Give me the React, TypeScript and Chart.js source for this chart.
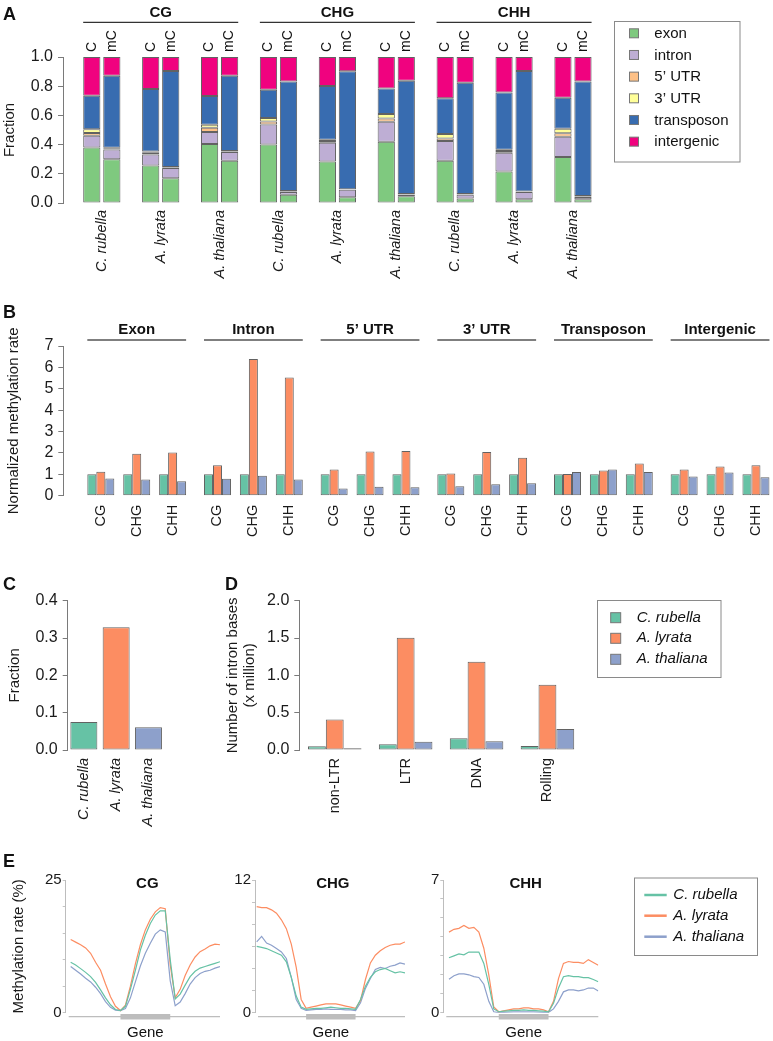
import React, { useEffect, useRef } from 'react';
import { Chart, registerables } from 'chart.js';

Chart.register(...registerables);

const FONT = "'Liberation Sans', Arial, Helvetica, sans-serif";
Chart.defaults.font.family = FONT;
Chart.defaults.color = '#1a1a1a';

// ---------------- Panel A data ----------------
const regionLabels = ['exon', 'intron', '5’ UTR', '3’ UTR', 'transposon', 'intergenic'];
const regionColors = ['#7fc97f', '#beaed4', '#fdc086', '#ffff99', '#386cb0', '#f0027f'];
const pairPositions = [1, 2, 3, 4, 5, 6, 7, 8, 9];
const pairSpecies = ['C. rubella', 'A. lyrata', 'A. thaliana', 'C. rubella', 'A. lyrata', 'A. thaliana', 'C. rubella', 'A. lyrata', 'A. thaliana'];
const contextGroups = ['CG', 'CHG', 'CHH'];

const exonC = [0.38, 0.256, 0.404, 0.40, 0.285, 0.42, 0.29, 0.215, 0.315];
const exonMC = [0.30, 0.169, 0.29, 0.057, 0.039, 0.046, 0.03, 0.025, 0.025];
const intronC = [0.08, 0.077, 0.082, 0.137, 0.128, 0.137, 0.135, 0.13, 0.139];
const intronMC = [0.066, 0.071, 0.059, 0.018, 0.052, 0.011, 0.027, 0.05, 0.016];
const utr5C = [0.02, 0.012, 0.03, 0.022, 0.012, 0.021, 0.016, 0.012, 0.023];
const utr5MC = [0.006, 0.004, 0.004, 0.004, 0.002, 0.003, 0.003, 0.002, 0.004];
const utr3C = [0.025, 0.007, 0.02, 0.023, 0.009, 0.032, 0.032, 0.008, 0.032];
const utr3MC = [0.006, 0.003, 0.004, 0.003, 0.002, 0.002, 0.002, 0.002, 0.003];
const transposonC = [0.23, 0.429, 0.197, 0.194, 0.367, 0.175, 0.244, 0.391, 0.212];
const transposonMC = [0.494, 0.657, 0.515, 0.751, 0.807, 0.776, 0.762, 0.825, 0.785];
const intergenicC = [0.265, 0.219, 0.267, 0.224, 0.199, 0.215, 0.283, 0.244, 0.279];
const intergenicMC = [0.128, 0.096, 0.128, 0.167, 0.098, 0.162, 0.176, 0.096, 0.167];
const fractionTicksA = [0, 0.2, 0.4, 0.6, 0.8, 1.0];

// ---------------- Shared species ----------------
const speciesNames = ['C. rubella', 'A. lyrata', 'A. thaliana'];
const speciesColors = ['#66c2a5', '#fc8d62', '#8da0cb'];

// ---------------- Panel B data ----------------
const regionHeaders = ['Exon', 'Intron', '5’ UTR', '3’ UTR', 'Transposon', 'Intergenic'];
const contextLabelsB = ['CG', 'CHG', 'CHH', 'CG', 'CHG', 'CHH', 'CG', 'CHG', 'CHH', 'CG', 'CHG', 'CHH', 'CG', 'CHG', 'CHH', 'CG', 'CHG', 'CHH'];
const positionsB = [1, 2, 3, 4.25, 5.25, 6.25, 7.5, 8.5, 9.5, 10.75, 11.75, 12.75, 14, 15, 16, 17.25, 18.25, 19.25];
const rubellaB = [1, 1, 1, 1, 1, 1, 1, 1, 1, 1, 1, 1, 1, 1, 1, 1, 1, 1];
const lyrataB = [1.12, 1.96, 2.02, 1.42, 6.39, 5.53, 1.23, 2.07, 2.09, 1.04, 2.04, 1.78, 1.01, 1.18, 1.51, 1.23, 1.36, 1.42];
const thalianaB = [0.81, 0.76, 0.67, 0.79, 0.93, 0.76, 0.34, 0.42, 0.40, 0.44, 0.53, 0.58, 1.11, 1.23, 1.11, 0.90, 1.09, 0.86];

// ---------------- Panel C data ----------------
const intronTEFraction = [0.075, 0.329, 0.061];

// ---------------- Panel D data ----------------
const teClasses = ['non-LTR', 'LTR', 'DNA', 'Rolling'];
const rubellaD = [0.049, 0.076, 0.156, 0.054];
const lyrataD = [0.41, 1.504, 1.183, 0.875];
const thalianaD = [0.022, 0.112, 0.116, 0.281];

// ---------------- Panel E data ----------------
const bins = [0, 1, 2, 3, 4, 5, 6, 7, 8, 9, 10, 11, 12, 13, 14, 15, 16, 17, 18, 19, 20, 21, 22, 23, 24, 25, 26, 27, 28, 29, 30];
const geneStartBin = 10;
const geneEndBin = 20;
const cgRubella = [9.5, 9.0, 8.3, 7.6, 6.8, 5.7, 4.3, 2.8, 1.5, 0.6, 0.4, 1.2, 4.4, 8.0, 11.8, 14.6, 16.8, 18.4, 19.2, 19.2, 10.0, 2.6, 3.5, 5.2, 6.8, 7.8, 8.4, 8.7, 9.0, 9.3, 9.6];
const cgLyrata = [13.8, 13.3, 12.8, 12.2, 11.2, 9.5, 8.0, 5.4, 3.0, 1.2, 0.4, 1.4, 5.0, 9.2, 12.8, 15.6, 17.6, 19.0, 19.8, 19.6, 9.0, 2.8, 4.4, 7.0, 9.0, 10.5, 11.5, 12.0, 12.6, 12.9, 12.8];
const cgThaliana = [8.7, 8.0, 7.3, 6.5, 5.8, 4.8, 3.6, 2.1, 1.0, 0.5, 0.4, 0.8, 2.8, 5.8, 8.8, 11.2, 13.1, 14.8, 15.6, 15.2, 6.0, 1.3, 2.0, 3.6, 5.4, 6.6, 7.4, 7.8, 8.0, 8.4, 8.7];
const chgRubella = [6.0, 5.9, 5.8, 5.6, 5.4, 5.2, 4.6, 3.2, 1.5, 0.5, 0.3, 0.35, 0.4, 0.4, 0.45, 0.5, 0.45, 0.4, 0.4, 0.35, 0.3, 1.2, 2.4, 3.2, 3.7, 3.9, 4.0, 3.8, 3.6, 3.7, 3.6];
const chgLyrata = [9.6, 9.5, 9.5, 9.3, 9.0, 8.4, 7.6, 6.2, 4.1, 1.2, 0.4, 0.5, 0.6, 0.7, 0.8, 0.8, 0.8, 0.7, 0.6, 0.5, 0.4, 1.1, 3.0, 4.5, 5.2, 5.6, 5.9, 6.1, 6.2, 6.2, 6.4];
const chgThaliana = [6.4, 6.9, 6.3, 6.1, 5.8, 5.5, 4.9, 3.2, 1.2, 0.4, 0.2, 0.25, 0.3, 0.3, 0.35, 0.3, 0.3, 0.3, 0.25, 0.25, 0.2, 0.9, 2.2, 3.1, 3.9, 4.1, 4.0, 4.2, 4.3, 4.5, 4.4];
const chhRubella = [2.9, 3.0, 3.1, 3.05, 3.2, 3.2, 3.2, 2.6, 1.5, 0.2, 0.05, 0.08, 0.1, 0.12, 0.12, 0.15, 0.12, 0.12, 0.1, 0.08, 0.05, 0.5, 1.3, 1.9, 1.95, 1.9, 1.9, 1.85, 1.85, 1.75, 1.63];
const chhLyrata = [4.25, 4.4, 4.45, 4.6, 4.45, 4.5, 4.25, 3.4, 2.0, 0.3, 0.05, 0.1, 0.15, 0.2, 0.2, 0.25, 0.25, 0.2, 0.2, 0.15, 0.05, 0.6, 1.8, 2.6, 2.7, 2.65, 2.65, 2.6, 2.8, 2.65, 2.5];
const chhThaliana = [1.77, 1.95, 2.05, 2.05, 2.0, 1.9, 1.86, 1.5, 0.6, 0.05, 0.0, 0.02, 0.03, 0.04, 0.04, 0.05, 0.04, 0.04, 0.03, 0.02, 0.02, 0.2, 0.6, 1.1, 1.2, 1.2, 1.15, 1.2, 1.3, 1.3, 1.15];

// ---------------- helpers ----------------
const AXIS = '#7a7a7a';
const BAR_BORDER = 'rgba(70,70,70,0.85)';

function rotText(ctx: any, s: string, x: number, y: number) {
  ctx.save();
  ctx.translate(x, y);
  ctx.rotate(-Math.PI / 2);
  ctx.textAlign = 'left';
  ctx.textBaseline = 'middle';
  ctx.fillText(s, 0, 0);
  ctx.restore();
}

function hline(ctx: any, x1: number, x2: number, y: number, w: number, color: string) {
  ctx.save();
  ctx.strokeStyle = color;
  ctx.lineWidth = w;
  ctx.beginPath();
  ctx.moveTo(x1, y);
  ctx.lineTo(x2, y);
  ctx.stroke();
  ctx.restore();
}

function letter(ctx: any, s: string, x: number, y: number) {
  ctx.save();
  ctx.fillStyle = '#111';
  ctx.font = `bold 18px ${FONT}`;
  ctx.textAlign = 'left';
  ctx.textBaseline = 'alphabetic';
  ctx.fillText(s, x, y);
  ctx.restore();
}

function boxLegend(ctx: any, x: number, y: number, w: number, h: number) {
  ctx.save();
  ctx.strokeStyle = '#8a8a8a';
  ctx.lineWidth = 1;
  ctx.strokeRect(x + 0.5, y + 0.5, w, h);
  ctx.restore();
}

function yAxisBase(width: number, min: number, max: number, step: number, fmt: (v: number) => string, title: any, titlePad: number, tickSize = 16) {
  return {
    min, max,
    afterFit: (s: any) => { s.width = width; },
    ticks: { stepSize: step, autoSkip: false, callback: (v: any) => fmt(Number(v)), font: { size: tickSize }, padding: 5, color: '#1a1a1a' },
    grid: { drawOnChartArea: false, tickLength: 5, color: AXIS },
    border: { color: AXIS, width: 1 },
    title: title ? { display: true, text: title, font: { size: 15 }, padding: { top: titlePad, bottom: 0 }, color: '#1a1a1a' } : { display: false },
  };
}

// ---------------- Panel A ----------------
function buildA() {
  const arrC = [exonC, intronC, utr5C, utr3C, transposonC, intergenicC];
  const arrMC = [exonMC, intronMC, utr5MC, utr3MC, transposonMC, intergenicMC];
  const datasets: any[] = [];
  regionLabels.forEach((lab, r) => {
    datasets.push({ label: lab, stack: 'C', backgroundColor: regionColors[r], borderColor: BAR_BORDER, borderWidth: 1, borderSkipped: false,
      data: pairPositions.map((x, i) => ({ x, y: arrC[r][i] })) });
    datasets.push({ label: lab, stack: 'mC', backgroundColor: regionColors[r], borderColor: BAR_BORDER, borderWidth: 1, borderSkipped: false,
      data: pairPositions.map((x, i) => ({ x, y: arrMC[r][i] })) });
  });
  const deco = {
    id: 'decoA',
    afterDraw(chart: any) {
      const ctx = chart.ctx;
      letter(ctx, 'A', 3, 20);
      const mc = chart.getDatasetMeta(0).data;
      const mm = chart.getDatasetMeta(1).data;
      ctx.save();
      ctx.fillStyle = '#111';
      ctx.font = `14px ${FONT}`;
      for (let i = 0; i < mc.length; i++) {
        rotText(ctx, 'C', mc[i].x, 52);
        rotText(ctx, 'mC', mm[i].x, 52);
      }
      ctx.font = `bold 15px ${FONT}`;
      ctx.textAlign = 'center';
      ctx.textBaseline = 'middle';
      contextGroups.forEach((g, k) => {
        const a = mc[3 * k];
        const b = mm[3 * k + 2];
        const l = a.x - a.width / 2;
        const r = b.x + b.width / 2;
        ctx.fillText(g, (l + r) / 2, 13);
        hline(ctx, l, r, 22.3, 1.3, '#333');
      });
      // legend
      boxLegend(ctx, 614, 21, 125.5, 140.5);
      const items = chart.data.datasets.filter((d: any) => d.stack === 'C');
      ctx.font = `15px ${FONT}`;
      ctx.textAlign = 'left';
      items.forEach((d: any, k: number) => {
        const cy = 33.3 + k * 21.67;
        ctx.fillStyle = d.backgroundColor;
        ctx.fillRect(629.5, cy - 4.5, 9, 9);
        ctx.strokeStyle = '#777';
        ctx.lineWidth = 1;
        ctx.strokeRect(629.5, cy - 4.5, 9, 9);
        ctx.fillStyle = '#111';
        ctx.fillText(d.label, 654.3, cy + 0.5);
      });
      ctx.restore();
    },
  };
  return {
    type: 'bar',
    data: { datasets },
    options: {
      animation: false, responsive: false, maintainAspectRatio: false,
      layout: { padding: { top: 57, right: 170.6, left: 0, bottom: 0 } },
      plugins: { legend: { display: false }, tooltip: { enabled: false } },
      datasets: { bar: { categoryPercentage: 0.68, barPercentage: 0.86 } },
      scales: {
        x: {
          type: 'linear', stacked: true, offset: false, min: 0.341, max: 9.5,
          afterBuildTicks: (s: any) => { s.ticks = pairPositions.map((v) => ({ value: v })); },
          afterFit: (s: any) => { s.height = 87; s.paddingLeft = 0; s.paddingRight = 0; },
          grid: { display: false, drawTicks: false, offset: false },
          border: { display: false },
          ticks: { autoSkip: false, minRotation: 90, maxRotation: 90, padding: 7, font: { size: 14.5, style: 'italic' }, color: '#1a1a1a',
            callback: (v: any) => pairSpecies[Math.round(Number(v)) - 1] },
        },
        y: {
          stacked: true,
          ...yAxisBase(63, 0, 1, 0.2, (v) => v.toFixed(1), 'Fraction', 1),
          afterBuildTicks: (s: any) => { s.ticks = fractionTicksA.map((v) => ({ value: v })); },
        },
      },
    },
    plugins: [deco],
  };
}

// ---------------- Panel B ----------------
function buildB() {
  const series = [rubellaB, lyrataB, thalianaB];
  const datasets = series.map((arr, k) => ({
    label: speciesNames[k], backgroundColor: speciesColors[k], borderColor: BAR_BORDER, borderWidth: 1, borderSkipped: false,
    data: positionsB.map((x, i) => ({ x, y: arr[i] })),
  }));
  const deco = {
    id: 'decoB',
    afterDraw(chart: any) {
      const ctx = chart.ctx;
      letter(ctx, 'B', 3, 18.3);
      const m0 = chart.getDatasetMeta(0).data;
      const m2 = chart.getDatasetMeta(2).data;
      ctx.save();
      ctx.fillStyle = '#111';
      ctx.font = `bold 15px ${FONT}`;
      ctx.textAlign = 'center';
      ctx.textBaseline = 'middle';
      regionHeaders.forEach((h, g) => {
        const a = m0[3 * g];
        const b = m2[3 * g + 2];
        const l = a.x - a.width / 2;
        const r = b.x + b.width / 2;
        ctx.fillText(h, (l + r) / 2, 30);
        hline(ctx, l, r, 40, 1.4, '#555');
      });
      ctx.restore();
    },
  };
  return {
    type: 'bar',
    data: { datasets },
    options: {
      animation: false, responsive: false, maintainAspectRatio: false,
      layout: { padding: { top: 46, right: 0, left: 0, bottom: 0 } },
      plugins: { legend: { display: false }, tooltip: { enabled: false } },
      datasets: { bar: { categoryPercentage: 0.752, barPercentage: 1 } },
      scales: {
        x: {
          type: 'linear', stacked: false, offset: false, min: -0.045, max: 19.725,
          afterBuildTicks: (s: any) => { s.ticks = positionsB.map((v) => ({ value: v })); },
          afterFit: (s: any) => { s.height = 54.3; s.paddingLeft = 0; s.paddingRight = 0; },
          grid: { display: false, drawTicks: false, offset: false },
          border: { display: false },
          ticks: { autoSkip: false, minRotation: 90, maxRotation: 90, padding: 9, font: { size: 14.5 }, color: '#1a1a1a',
            callback: (v: any, i: number) => contextLabelsB[i] },
        },
        y: yAxisBase(63.3, 0, 7, 1, (v) => String(v), 'Normalized methylation rate', 5),
      },
    },
    plugins: [deco],
  };
}

// ---------------- Panel C ----------------
function buildC() {
  const deco = { id: 'decoC', afterDraw(chart: any) { letter(chart.ctx, 'C', 3, 30); } };
  return {
    type: 'bar',
    data: {
      labels: speciesNames,
      datasets: [{ data: intronTEFraction, backgroundColor: speciesColors, borderColor: BAR_BORDER, borderWidth: 1, borderSkipped: false }],
    },
    options: {
      animation: false, responsive: false, maintainAspectRatio: false,
      layout: { padding: { top: 40.7, right: 35.4, left: 0, bottom: 0 } },
      plugins: { legend: { display: false }, tooltip: { enabled: false } },
      datasets: { bar: { categoryPercentage: 1, barPercentage: 0.836 } },
      scales: {
        x: {
          afterFit: (s: any) => { s.height = 90; s.paddingLeft = 0; s.paddingRight = 0; },
          grid: { display: false, drawTicks: false },
          border: { display: false },
          ticks: { autoSkip: false, minRotation: 90, maxRotation: 90, padding: 8, font: { size: 14.5, style: 'italic' }, color: '#1a1a1a' },
        },
        y: yAxisBase(67.7, 0, 0.4, 0.1, (v) => v.toFixed(1), 'Fraction', 6),
      },
    },
    plugins: [deco],
  };
}

// ---------------- Panel D ----------------
function buildD() {
  const series = [rubellaD, lyrataD, thalianaD];
  const datasets = series.map((arr, k) => ({
    label: speciesNames[k], data: arr, backgroundColor: speciesColors[k], borderColor: BAR_BORDER, borderWidth: 1, borderSkipped: false,
  }));
  const deco = {
    id: 'decoD',
    afterDraw(chart: any) {
      const ctx = chart.ctx;
      letter(ctx, 'D', 25, 30);
      boxLegend(ctx, 397, 40, 123.5, 77);
      ctx.save();
      ctx.font = `italic 15px ${FONT}`;
      ctx.textAlign = 'left';
      ctx.textBaseline = 'middle';
      const ys = [57.7, 78.3, 99.3];
      chart.data.datasets.forEach((d: any, k: number) => {
        ctx.fillStyle = d.backgroundColor;
        ctx.fillRect(410.7, ys[k] - 5, 10, 10);
        ctx.strokeStyle = '#777';
        ctx.strokeRect(410.7, ys[k] - 5, 10, 10);
        ctx.fillStyle = '#111';
        ctx.fillText(d.label, 436.7, ys[k]);
      });
      ctx.restore();
    },
  };
  return {
    type: 'bar',
    data: { labels: teClasses, datasets },
    options: {
      animation: false, responsive: false, maintainAspectRatio: false,
      layout: { padding: { top: 40.7, right: 190.1, left: 0, bottom: 0 } },
      plugins: { legend: { display: false }, tooltip: { enabled: false } },
      datasets: { bar: { categoryPercentage: 0.755, barPercentage: 1 } },
      scales: {
        x: {
          afterFit: (s: any) => { s.height = 90; s.paddingLeft = 0; s.paddingRight = 0; },
          grid: { display: false, drawTicks: false },
          border: { display: false },
          ticks: { autoSkip: false, minRotation: 90, maxRotation: 90, padding: 8, font: { size: 14.5 }, color: '#1a1a1a' },
        },
        y: {
          ...yAxisBase(99.3, 0, 2, 0.5, (v) => v.toFixed(1), null, 0),
          title: { display: true, text: ['Number of intron bases', '(x million)'], font: { size: 15, lineHeight: 1.11 }, padding: { top: 25, bottom: 0 }, color: '#1a1a1a' },
        },
      },
    },
    plugins: [deco],
  };
}

// ---------------- Panel E ----------------
function buildProfile(series: number[][], yMax: number, step: number, xMin: number, yWidth: number, padRight: number, title: string, extra: { yTitle?: boolean; letter?: boolean; legend?: boolean }) {
  const datasets = series.map((arr, k) => ({
    label: speciesNames[k], borderColor: speciesColors[k], backgroundColor: speciesColors[k], borderWidth: 1.2, pointRadius: 0, tension: 0,
    data: bins.map((b, i) => ({ x: b, y: arr[i] })),
  }));
  const deco = {
    id: 'decoE',
    afterDraw(chart: any) {
      const ctx = chart.ctx;
      const ca = chart.chartArea;
      const xs = chart.scales.x;
      if (extra.letter) letter(ctx, 'E', 3, 17);
      const y0 = ca.bottom + 4;
      hline(ctx, ca.left + 3, ca.right, y0, 1.2, '#bdbdbd');
      const g1 = xs.getPixelForValue(geneStartBin);
      const g2 = xs.getPixelForValue(geneEndBin);
      hline(ctx, g1, g2, y0, 5.5, '#bdbdbd');
      ctx.save();
      ctx.fillStyle = '#111';
      ctx.textAlign = 'center';
      ctx.textBaseline = 'middle';
      ctx.font = `15px ${FONT}`;
      ctx.fillText('Gene', (g1 + g2) / 2, ca.bottom + 20.6);
      ctx.font = `bold 15px ${FONT}`;
      ctx.fillText(title, (g1 + g2) / 2 + 2, ca.top + 3.5);
      if (extra.legend) {
        boxLegend(ctx, 214, 27.5, 123, 77.5);
        ctx.font = `italic 15px ${FONT}`;
        ctx.textAlign = 'left';
        const ys = [45, 65.7, 86.7];
        chart.data.datasets.forEach((d: any, k: number) => {
          hline(ctx, 224.3, 246.7, ys[k], 2.5, d.borderColor);
          ctx.fillStyle = '#111';
          ctx.fillText(d.label, 253.3, ys[k]);
        });
      }
      ctx.restore();
    },
  };
  return {
    type: 'line',
    data: { datasets },
    options: {
      animation: false, responsive: false, maintainAspectRatio: false,
      layout: { padding: { top: 30, right: padRight, left: 0, bottom: 28.3 } },
      plugins: { legend: { display: false }, tooltip: { enabled: false } },
      scales: {
        x: { type: 'linear', display: false, min: xMin, max: 30 },
        y: {
          min: 0, max: yMax,
          afterFit: (s: any) => { s.width = yWidth; },
          ticks: { stepSize: step, autoSkip: false, callback: (v: any) => (Number(v) === 0 || Number(v) === yMax ? String(v) : ''), font: { size: 15 }, padding: 1, color: '#1a1a1a' },
          grid: { drawOnChartArea: false, tickLength: 3, color: '#c4c4c4' },
          border: { color: '#bdbdbd', width: 1 },
          title: extra.yTitle ? { display: true, text: 'Methylation rate (%)', font: { size: 15 }, padding: { top: 9.5, bottom: 0 }, color: '#1a1a1a' } : { display: false },
        },
      },
    },
    plugins: [deco],
  };
}

function ChartBox(props: { left: number; top: number; width: number; height: number; build: () => any }) {
  const ref = useRef<HTMLCanvasElement>(null);
  useEffect(() => {
    const chart = new Chart(ref.current as HTMLCanvasElement, props.build());
    return () => chart.destroy();
  }, []);
  return (
    <div style={{ position: 'absolute', left: props.left, top: props.top, width: props.width, height: props.height }}>
      <canvas ref={ref} width={props.width} height={props.height} style={{ width: props.width, height: props.height, display: 'block' }} />
    </div>
  );
}

export default function App() {
  return (
    <div style={{ position: 'absolute', left: 0, top: 0, width: 773, height: 1041, background: '#fff', overflow: 'hidden' }}>
      <ChartBox left={0} top={0} width={773} height={290} build={buildA} />
      <ChartBox left={0} top={300} width={773} height={250} build={buildB} />
      <ChartBox left={0} top={560} width={200} height={280} build={buildC} />
      <ChartBox left={200} top={560} width={573} height={280} build={buildD} />
      <ChartBox left={0} top={850} width={230} height={191}
        build={() => buildProfile([cgRubella, cgLyrata, cgThaliana], 25, 5, -1, 65.7, 10, 'CG', { yTitle: true, letter: true })} />
      <ChartBox left={230} top={850} width={190} height={191}
        build={() => buildProfile([chgRubella, chgLyrata, chgThaliana], 12, 2, -0.34, 25, 15, 'CHG', {})} />
      <ChartBox left={420} top={850} width={353} height={191}
        build={() => buildProfile([chhRubella, chhLyrata, chhThaliana], 7, 1, -1.14, 23.3, 174.7, 'CHH', { legend: true })} />
    </div>
  );
}
